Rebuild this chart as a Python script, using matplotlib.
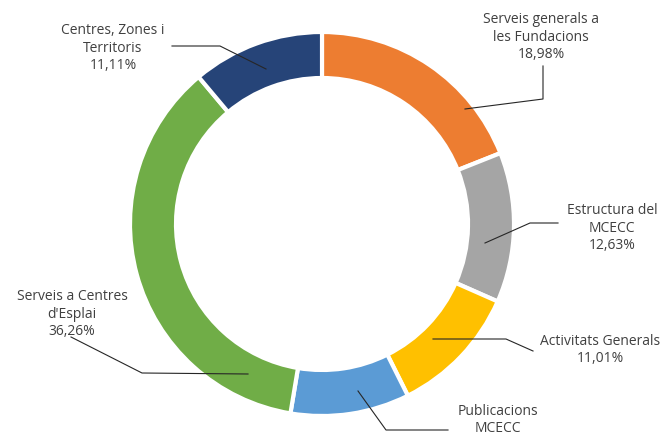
import matplotlib.pyplot as plt

# data
labels = ["Serveis generals a\nles Fundacions", "Estructura del\nMCECC", "Activitats Generals",
          "Publicacions\nMCECC", "Serveis a Centres\nd'Esplai", "Centres, Zones i\nTerritoris"]
values = [18.98, 12.63, 11.01, 10.01, 36.26, 11.11]
colors = ["#ED7D31", "#A5A5A5", "#FFC000", "#5B9BD5", "#70AD47", "#264478"]
# the percentage of Publicacions falls below the bottom edge in the original
show_pct = [True, True, True, False, True, True]

W, H = 666, 439

# label text centres (pixel coords, y down) and leader polylines
label_pos = [(541, 37), (612, 228), (600, 350), (498, 420), (72, 314), (113, 48)]
leaders = [
    [(543, 67), (543, 100), (465, 110)],
    [(558, 224), (530, 224), (485, 244)],
    [(533, 352), (506, 340), (433, 340)],
    [(448, 431), (386, 431), (358, 392)],
    [(71, 338), (142, 374), (248, 375)],
    [(172, 47), (220, 47), (266, 70)],
]

fig = plt.figure(figsize=(6.66, 4.39), dpi=100)
ax = fig.add_axes([0, 0, 1, 1])

ax.pie(values, colors=colors, startangle=90, counterclock=False,
       center=(322, H - 225), radius=192, frame=True,
       wedgeprops=dict(width=46, edgecolor="white", linewidth=3))
ax.set_xlim(0, W)
ax.set_ylim(0, H)
ax.set_aspect("equal")
ax.axis("off")

for lab, v, show, (x, y), pts in zip(labels, values, show_pct, label_pos, leaders):
    txt = lab
    if show:
        txt += "\n" + ("%.2f%%" % v).replace(".", ",")
    ax.text(x, H - y, txt, ha="center", va="center", fontsize=10,
            family="Open Sans", color="#404040", linespacing=1.2)
    ax.plot([p[0] for p in pts], [H - p[1] for p in pts], color="#262626", lw=0.8)

fig.savefig("out.png", dpi=100)
